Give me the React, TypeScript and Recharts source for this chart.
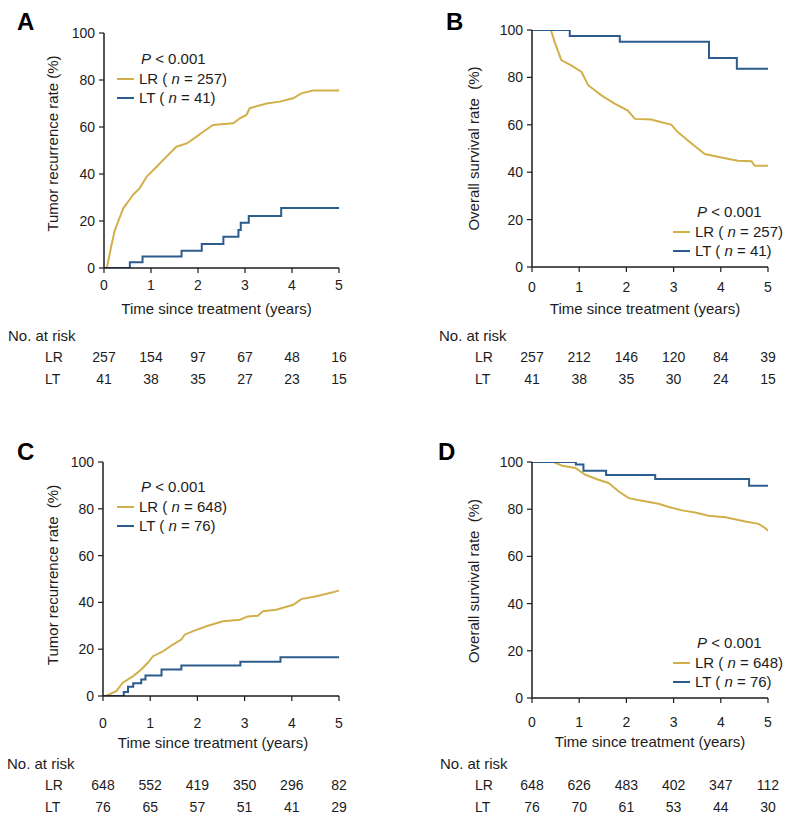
import React from 'react';
import { LineChart, Line, XAxis, YAxis, Label, Legend } from 'recharts';

const YELLOW = '#d1b04b';
const BLUE = '#2b5c8c';
const INK = '#1c1c1c';
const FONT = '"Liberation Sans", Arial, Helvetica, sans-serif';

const yearTicks = [0, 1, 2, 3, 4, 5];
const pctTicks = [0, 20, 40, 60, 80, 100];

// Panel A – tumour recurrence, cohort 1
const recurLR_A = [[0.06, 0], [0.16, 9.8], [0.23, 16], [0.34, 21.8], [0.41, 25.4], [0.52, 28.4], [0.62, 31.2], [0.76, 34], [0.91, 38.9], [1.12, 43.1], [1.33, 47.4], [1.54, 51.6], [1.76, 53], [1.97, 55.9], [2.11, 58], [2.32, 60.9], [2.75, 61.6], [2.89, 63.7], [3.03, 65.1], [3.1, 68], [3.46, 70], [3.74, 70.8], [4.02, 72.2], [4.2, 74.3], [4.45, 75.5], [5, 75.5]];
const recurLT_A = [[0, 0], [0.55, 2.4], [0.82, 4.9], [1.65, 7.3], [2.08, 10.2], [2.54, 13.3], [2.86, 16.2], [2.91, 19.3], [3.08, 22.1], [3.77, 25.5], [5, 25.5]];
const riskLR_A = [257, 154, 97, 67, 48, 16];
const riskLT_A = [41, 38, 35, 27, 23, 15];

// Panel B – overall survival, cohort 1
const survLR_B = [[0, 100], [0.4, 100], [0.48, 95], [0.62, 87.3], [0.83, 85.1], [1.05, 82.3], [1.19, 76.7], [1.47, 72.4], [1.75, 68.9], [2.03, 66], [2.18, 62.5], [2.53, 62.2], [2.74, 61.1], [2.95, 60.1], [3.09, 56.9], [3.31, 53.3], [3.48, 50.5], [3.66, 47.7], [4.01, 46.2], [4.36, 44.8], [4.65, 44.6], [4.72, 42.7], [5, 42.7]];
const survLT_B = [[0, 100], [0.8, 97.5], [1.86, 95], [3.75, 88.2], [4.34, 83.7], [5, 83.7]];
const riskLR_B = [257, 212, 146, 120, 84, 39];
const riskLT_B = [41, 38, 35, 30, 24, 15];

// Panel C – tumour recurrence, cohort 2
const recurLR_C = [[0.06, 0], [0.28, 2.1], [0.42, 5.7], [0.64, 8.5], [0.81, 11.3], [0.95, 14.2], [1.06, 17], [1.27, 19.1], [1.48, 22], [1.66, 24.1], [1.73, 26.2], [1.91, 27.7], [2.19, 29.8], [2.54, 31.9], [2.9, 32.6], [3.07, 34], [3.28, 34.3], [3.39, 36.2], [3.67, 36.9], [4.03, 39], [4.2, 41.4], [4.52, 42.6], [4.87, 44.3], [5, 45.1]];
const recurLT_C = [[0, 0], [0.44, 1.7], [0.53, 4], [0.64, 5.4], [0.81, 7.1], [0.9, 8.8], [1.24, 11.3], [1.66, 13], [2.91, 14.6], [3.76, 16.6], [5, 16.6]];
const riskLR_C = [648, 552, 419, 350, 296, 82];
const riskLT_C = [76, 65, 57, 51, 41, 29];

// Panel D – overall survival, cohort 2
const survLR_D = [[0, 100], [0.46, 100], [0.64, 98.4], [0.92, 97.5], [1.13, 94.6], [1.41, 92.5], [1.62, 91.1], [1.84, 87.5], [2.05, 84.7], [2.33, 83.6], [2.68, 82.3], [2.9, 80.9], [3.18, 79.5], [3.46, 78.6], [3.74, 77.2], [4.1, 76.6], [4.52, 74.8], [4.8, 73.8], [4.94, 72], [5, 70.9]];
const survLT_D = [[0, 100], [0.93, 98.9], [1.09, 96.3], [1.57, 94.5], [2.61, 92.8], [4.6, 89.9], [5, 89.9]];
const riskLR_D = [648, 626, 483, 402, 347, 112];
const riskLT_D = [76, 70, 61, 53, 44, 30];

const nA = [257, 41];
const nC = [648, 76];

const toPts = (arr: number[][]) => arr.map(([t, v]) => ({ t, v }));

const ROW = 22; // height of one at-risk row

type PanelProps = {
  letter: string;
  letterLeft: number;
  letterTop: number;
  left: number;
  top: number;
  width: number;
  height: number;
  marginTop: number;
  marginRight: number;
  yAxisWidth: number;
  mainAxisHeight: number;
  mainTickMargin: number;
  timeLabelCy: number;
  timeLabelDx: number;
  yLabel: string;
  yLabelCx: number;
  yLabelDy: number;
  lr: number[][];
  lt: number[][];
  riskLR: number[];
  riskLT: number[];
  counts: number[];
  legendLeft: number;
  legendTop: number;
  rowTextX: number;
  narX: number;
};

const KMLegend = ({ payload, counts }: any) => (
  <div style={{ fontFamily: FONT, fontSize: 15, color: INK, whiteSpace: 'nowrap' }}>
    <div style={{ height: 21, lineHeight: '21px', paddingLeft: 24 }}>
      <i>P</i> &lt; 0.001
    </div>
    {(payload || []).map((p: any, i: number) => (
      <div key={i} style={{ height: 19, lineHeight: '19px', display: 'flex', alignItems: 'center' }}>
        <span style={{ display: 'inline-block', width: 17, height: 2, background: p.color, marginRight: 5 }} />
        <span>
          {p.value} ( <i>n</i> = {counts[i]})
        </span>
      </div>
    ))}
  </div>
);

const Panel = (p: PanelProps) => {
  const tickSize = 5;
  // custom tick: year label plus the at-risk counts stacked below it
  const YearTick = (props: any) => {
    const { x, y, payload } = props;
    const axisTop = y - tickSize - p.mainTickMargin;
    const idx = yearTicks.indexOf(payload.value);
    const base = axisTop + p.mainAxisHeight;
    return (
      <g>
        <text x={x} y={y} dy="0.71em" textAnchor="middle" fontSize={14} fill={INK} fontFamily={FONT}>
          {payload.value}
        </text>
        <text x={x} y={base + ROW * 1.5} textAnchor="middle" dominantBaseline="central" fontSize={14} fill={INK} fontFamily={FONT}>
          {p.riskLR[idx]}
        </text>
        <text x={x} y={base + ROW * 2.5} textAnchor="middle" dominantBaseline="central" fontSize={14} fill={INK} fontFamily={FONT}>
          {p.riskLT[idx]}
        </text>
      </g>
    );
  };
  return (
    <>
      <div
        style={{
          position: 'absolute',
          left: p.letterLeft,
          top: p.letterTop,
          fontFamily: FONT,
          fontWeight: 'bold',
          fontSize: 24,
          lineHeight: '24px',
          color: '#000',
        }}
      >
        {p.letter}
      </div>
      <div style={{ position: 'absolute', left: p.left, top: p.top }}>
        <LineChart
          width={p.width}
          height={p.height}
          margin={{ top: p.marginTop, right: p.marginRight, left: 0, bottom: 0 }}
        >
          <XAxis
            xAxisId="main"
            type="number"
            dataKey="t"
            domain={[0, 5]}
            ticks={yearTicks}
            allowDataOverflow
            interval={0}
            height={p.mainAxisHeight + ROW * 3}
            tickSize={tickSize}
            tickMargin={p.mainTickMargin}
            axisLine={{ stroke: INK, strokeWidth: 1.5 }}
            tickLine={{ stroke: INK, strokeWidth: 1.2 }}
            tick={<YearTick />}
          >
            <Label
              content={(props: any) => {
                const vb = props.viewBox || {};
                const base = vb.y + p.mainAxisHeight;
                return (
                  <g fontFamily={FONT} fill={INK}>
                    <text
                      x={vb.x + vb.width / 2 + p.timeLabelDx}
                      y={vb.y + p.timeLabelCy}
                      textAnchor="middle"
                      dominantBaseline="central"
                      fontSize={15}
                    >
                      Time since treatment (years)
                    </text>
                    <text x={p.narX} y={base + ROW * 0.5} dominantBaseline="central" fontSize={15}>
                      No. at risk
                    </text>
                    <text x={p.rowTextX} y={base + ROW * 1.5} dominantBaseline="central" fontSize={14}>
                      LR
                    </text>
                    <text x={p.rowTextX} y={base + ROW * 2.5} dominantBaseline="central" fontSize={14}>
                      LT
                    </text>
                  </g>
                );
              }}
            />
          </XAxis>
          <YAxis
            type="number"
            domain={[0, 100]}
            ticks={pctTicks}
            allowDataOverflow
            interval={0}
            width={p.yAxisWidth}
            tickSize={5}
            tickMargin={4}
            axisLine={{ stroke: INK, strokeWidth: 1.5 }}
            tickLine={{ stroke: INK, strokeWidth: 1.2 }}
            tick={{ fontSize: 14, fill: INK, fontFamily: FONT }}
          >
            <Label
              content={(props: any) => {
                const vb = props.viewBox || {};
                const x = vb.x + p.yLabelCx;
                const y = vb.y + vb.height / 2 + p.yLabelDy;
                return (
                  <text
                    x={x}
                    y={y}
                    transform={`rotate(-90 ${x} ${y})`}
                    textAnchor="middle"
                    dominantBaseline="central"
                    fontSize={15}
                    fill={INK}
                    fontFamily={FONT}
                    style={{ whiteSpace: 'pre' }}
                  >
                    {p.yLabel}
                  </text>
                );
              }}
            />
          </YAxis>
          <Legend
            layout="vertical"
            verticalAlign="middle"
            align="center"
            wrapperStyle={{ left: p.legendLeft, top: p.legendTop, width: 'auto', height: 'auto' }}
            content={(props: any) => <KMLegend payload={props.payload} counts={p.counts} />}
          />
          <Line
            xAxisId="main"
            name="LR"
            data={toPts(p.lr)}
            dataKey="v"
            type="linear"
            stroke={YELLOW}
            strokeWidth={2}
            dot={false}
            isAnimationActive={false}
          />
          <Line
            xAxisId="main"
            name="LT"
            data={toPts(p.lt)}
            dataKey="v"
            type="stepAfter"
            stroke={BLUE}
            strokeWidth={2}
            dot={false}
            isAnimationActive={false}
          />
        </LineChart>
      </div>
    </>
  );
};

export default function App() {
  return (
    <div style={{ position: 'absolute', left: 0, top: 0, width: 789, height: 819, background: '#fff', overflow: 'hidden' }}>
      <Panel
        letter="A" letterLeft={17} letterTop={10}
        left={0} top={0} width={395} height={390}
        marginTop={33} marginRight={56} yAxisWidth={104}
        mainAxisHeight={56} mainTickMargin={7} timeLabelCy={40} timeLabelDx={-5}
        yLabel="Tumor recurrence rate (%)" yLabelCx={52} yLabelDy={-7}
        lr={recurLR_A} lt={recurLT_A} riskLR={riskLR_A} riskLT={riskLT_A} counts={nA}
        legendLeft={117} legendTop={48} rowTextX={45} narX={8}
      />
      <Panel
        letter="B" letterLeft={446} letterTop={10}
        left={395} top={0} width={394} height={390}
        marginTop={30} marginRight={21} yAxisWidth={137}
        mainAxisHeight={57} mainTickMargin={10} timeLabelCy={41} timeLabelDx={-5}
        yLabel="Overall survival rate  (%)" yLabelCx={78} yLabelDy={0}
        lr={survLR_B} lt={survLT_B} riskLR={riskLR_B} riskLT={riskLT_B} counts={nA}
        legendLeft={278} legendTop={201} rowTextX={80} narX={44}
      />
      <Panel
        letter="C" letterLeft={17} letterTop={440}
        left={0} top={400} width={395} height={418}
        marginTop={62} marginRight={56} yAxisWidth={103}
        mainAxisHeight={56} mainTickMargin={17} timeLabelCy={46} timeLabelDx={-8}
        yLabel="Tumor recurrence rate  (%)" yLabelCx={52} yLabelDy={-4}
        lr={recurLR_C} lt={recurLT_C} riskLR={riskLR_C} riskLT={riskLT_C} counts={nC}
        legendLeft={117} legendTop={76} rowTextX={45} narX={7}
      />
      <Panel
        letter="D" letterLeft={438} letterTop={440}
        left={395} top={400} width={394} height={418}
        marginTop={62} marginRight={21} yAxisWidth={137}
        mainAxisHeight={54} mainTickMargin={14} timeLabelCy={43} timeLabelDx={0}
        yLabel="Overall survival rate  (%)" yLabelCx={78} yLabelDy={1}
        lr={survLR_D} lt={survLT_D} riskLR={riskLR_D} riskLT={riskLT_D} counts={nC}
        legendLeft={278} legendTop={232} rowTextX={80} narX={45}
      />
    </div>
  );
}
